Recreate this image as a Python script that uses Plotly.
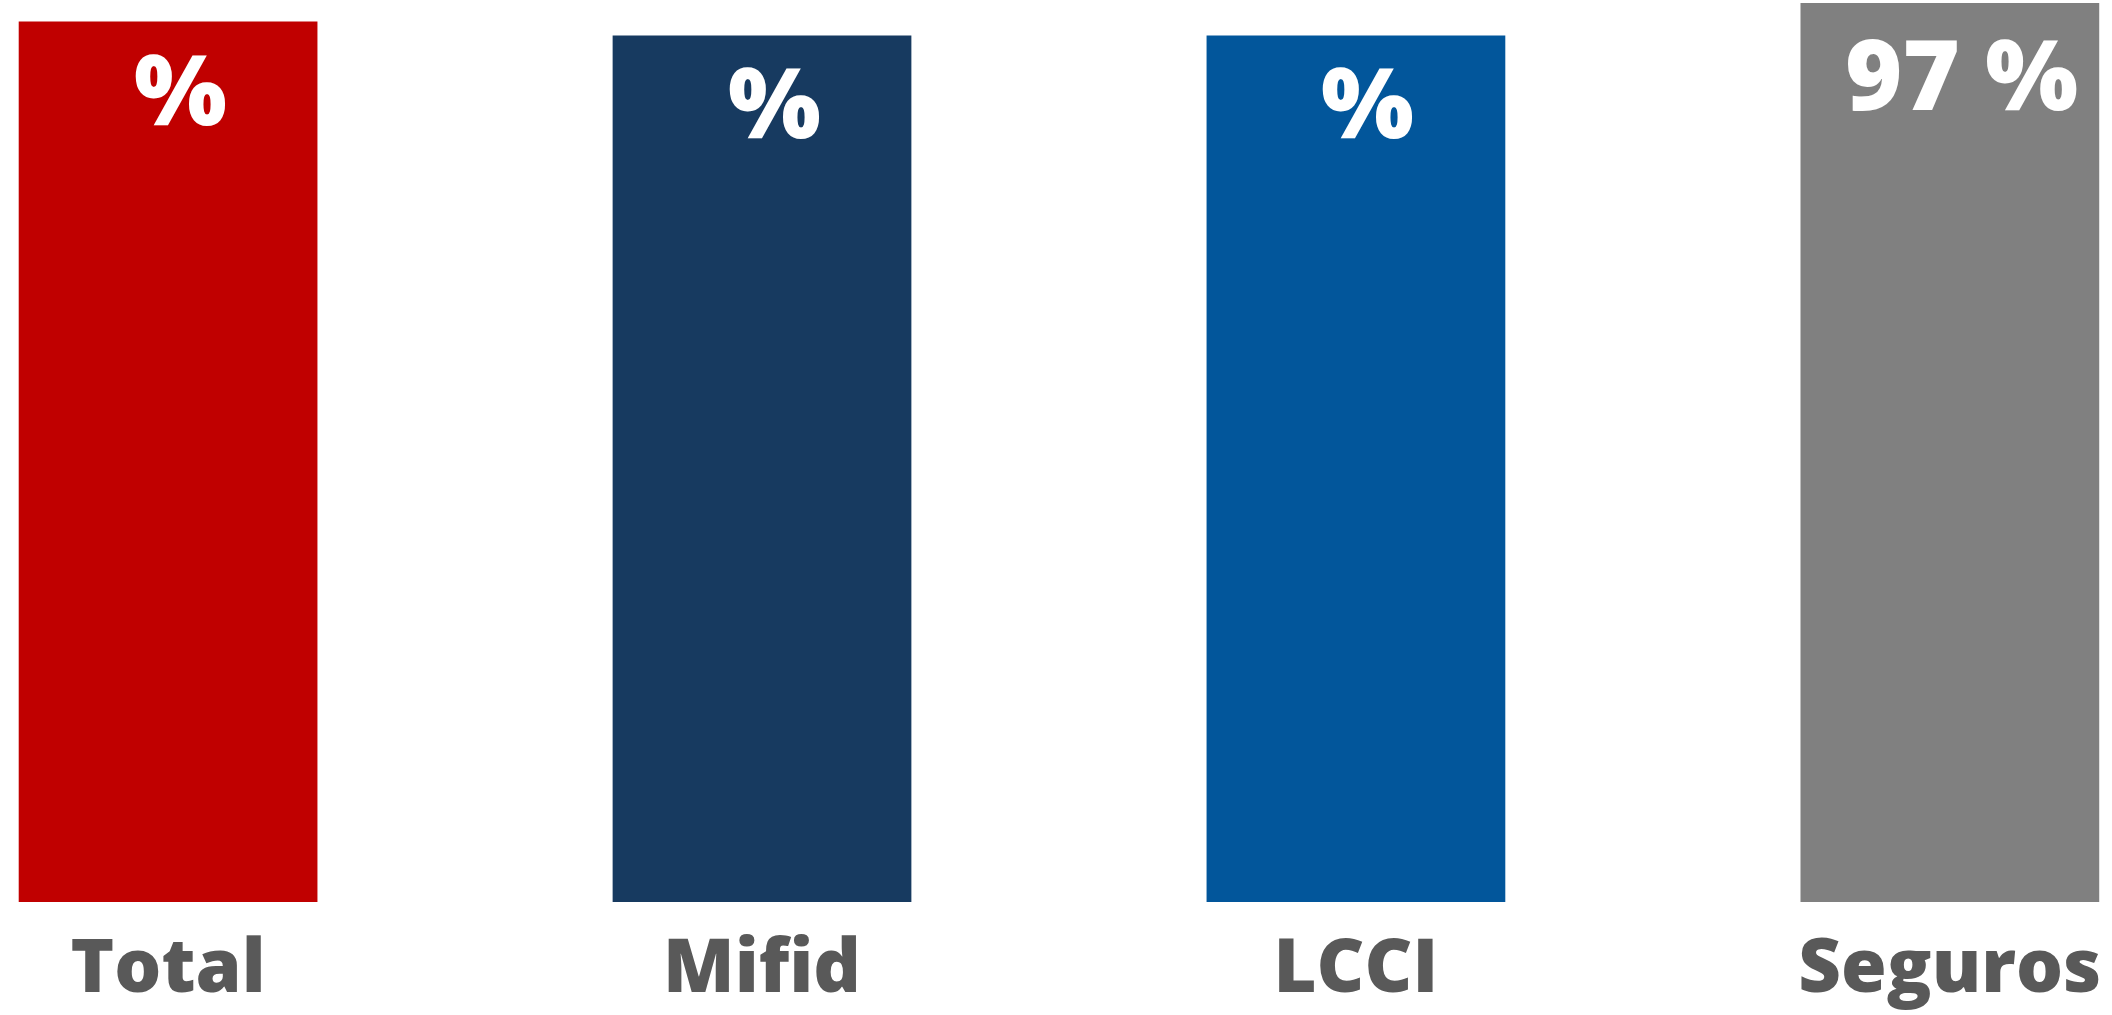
import plotly.graph_objects as go

categories = ["Total", "Mifid", "LCCI", "Seguros"]
values = [95, 93.5, 93.5, 97]
value_labels = ["%", "%", "%", "97 %"]
colors = ["#C00000", "#173A60", "#02569B", "#808080"]

fig = go.Figure()
fig.add_trace(go.Bar(
    x=categories,
    y=values,
    marker=dict(color=colors, line=dict(width=0)),
    width=0.503,
    hoverinfo="skip",
))

for c, v, t in zip(categories, values, value_labels):
    fig.add_annotation(
        x=c, y=v, text=t, showarrow=False,
        xanchor="center", yanchor="top",
        xshift=12, yshift=4 if t == "%" else 0,
        font=dict(family="Open Sans", size=98, color="white", weight=800),
    )

fig.update_layout(
    width=2112, height=1015,
    margin=dict(l=0, r=0, t=0, b=113, autoexpand=False),
    paper_bgcolor="white", plot_bgcolor="white",
    showlegend=False,
    xaxis=dict(
        range=[-0.283, 3.273],
        automargin=False,
        showgrid=False, zeroline=False, showline=False,
        ticks="",
        ticklabelstandoff=15,
        tickfont=dict(family="Open Sans", size=74, color="#595959", weight=800),
    ),
    yaxis=dict(
        range=[0, 97.32],
        automargin=False,
        visible=False,
    ),
)

fig.write_html(
    "out.html",
    config={"displayModeBar": False},
    post_script="document.body.style.margin='0';document.body.style.overflow='hidden';",
)
